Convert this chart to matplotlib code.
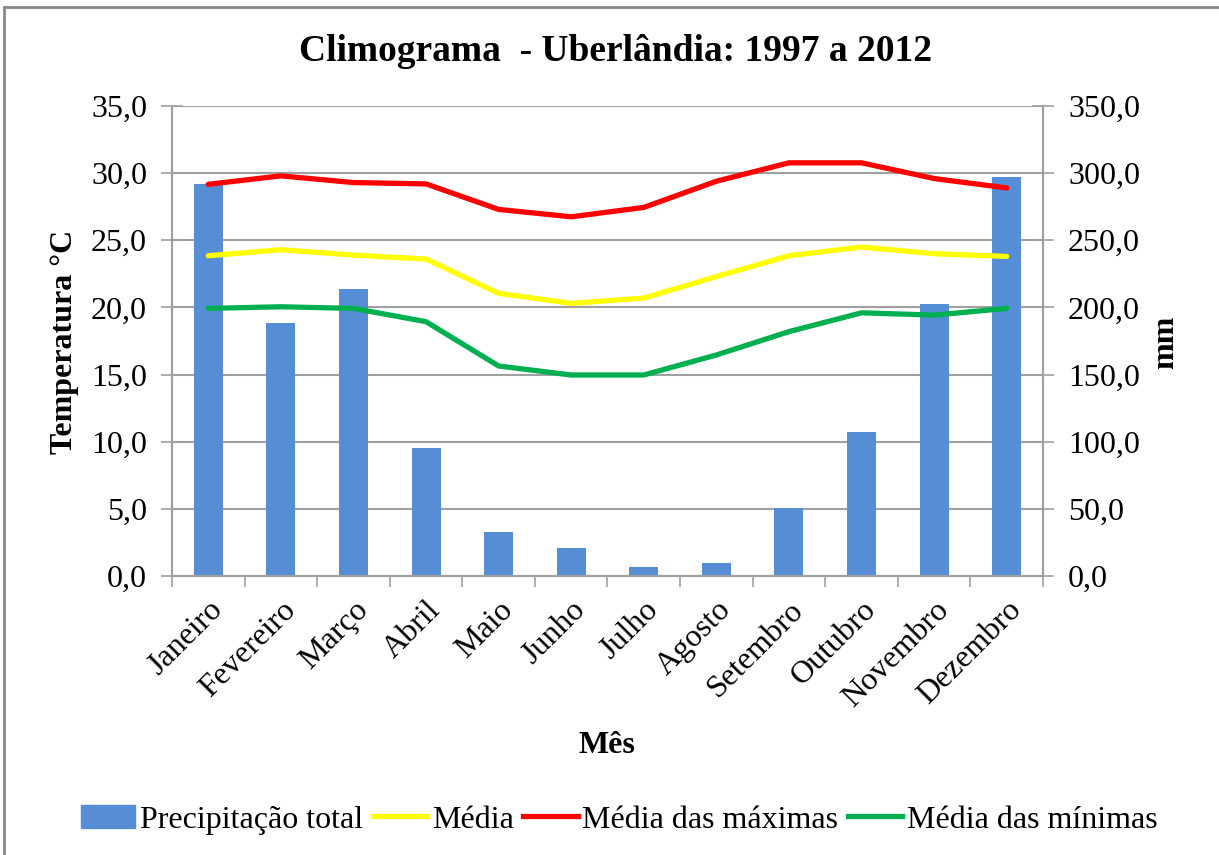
import numpy as np
import matplotlib.pyplot as plt
from matplotlib.patches import Patch, Rectangle
from matplotlib.lines import Line2D
from matplotlib.ticker import FuncFormatter, MultipleLocator

plt.rcParams['font.family'] = ['Liberation Serif', 'DejaVu Serif']

# Dados do climograma - Uberlândia 1997 a 2012
meses = ["Janeiro", "Fevereiro", "Março", "Abril", "Maio", "Junho",
         "Julho", "Agosto", "Setembro", "Outubro", "Novembro", "Dezembro"]
precipitacao = [292.0, 188.5, 213.5, 95.5, 32.5, 21.0, 6.7, 9.7, 50.4, 107.0, 202.5, 297.5]
media = [23.85, 24.3, 23.9, 23.6, 21.05, 20.3, 20.7, 22.3, 23.85, 24.5, 24.0, 23.8]
media_max = [29.17, 29.8, 29.3, 29.2, 27.3, 26.75, 27.45, 29.4, 30.77, 30.77, 29.6, 28.9]
media_min = [19.93, 20.05, 19.93, 18.94, 15.64, 14.97, 14.97, 16.46, 18.2, 19.6, 19.43, 19.93]

azul = '#558ED5'
cinza = '#A0A0A0'

fig = plt.figure(figsize=(12.19, 8.55), dpi=100)
ax = fig.add_axes([0.1411, 0.3263, 0.7145, 0.5497])
ax2 = ax.twinx()

x = np.arange(len(meses))

# barras (eixo da direita) ficam por baixo das linhas
ax2.bar(x, precipitacao, width=0.4, color=azul, zorder=2)
ax2.set_ylim(0, 350)
ax2.yaxis.set_major_locator(MultipleLocator(50))
ax2.grid(axis='y', color=cinza, linewidth=1.5, zorder=0)
ax2.set_axisbelow(True)

ax.plot(x, media, color='#FFFF00', lw=3.8, solid_capstyle='round')
ax.plot(x, media_max, color='#FF0000', lw=3.8, solid_capstyle='round')
ax.plot(x, media_min, color='#00B050', lw=3.8, solid_capstyle='round')
ax.set_zorder(ax2.get_zorder() + 1)
ax.patch.set_visible(False)
ax.set_ylim(0, 35)
ax.yaxis.set_major_locator(MultipleLocator(5))
ax.set_xlim(-0.5, 11.5)

fmt = FuncFormatter(lambda v, p: f"{v:.1f}".replace('.', ','))
ax.yaxis.set_major_formatter(fmt)
ax2.yaxis.set_major_formatter(fmt)

for a in (ax, ax2):
    a.spines['top'].set_visible(False)
    for s in ('left', 'right', 'bottom'):
        a.spines[s].set_color(cinza)
        a.spines[s].set_linewidth(1.5)

ax.tick_params(axis='y', direction='inout', length=16, width=1.2, color=cinza,
               labelsize=23, pad=10)
ax2.tick_params(axis='y', direction='inout', length=16, width=1.2, color=cinza,
                labelsize=23, pad=10)

ax.set_xticks(x)
ax.set_xticklabels(meses, rotation=45, ha='right', rotation_mode='anchor', fontsize=23)
ax.set_xticks(np.arange(-0.5, 12, 1), minor=True)
ax.tick_params(axis='x', which='major', length=0, pad=14)
ax.tick_params(axis='x', which='minor', length=8, width=1.2, color=cinza)

fig.text(0.505, 0.94, "Climograma  - Uberlândia: 1997 a 2012", ha='center', va='center',
         fontsize=27, fontweight='bold')
fig.text(0.053, 0.6, "Temperatura °C", rotation=90, ha='center', va='center',
         fontsize=23, fontweight='bold')
fig.text(0.956, 0.6, "mm", rotation=90, ha='center', va='center',
         fontsize=23, fontweight='bold')
fig.text(0.498, 0.128, "Mês", ha='center', va='center', fontsize=23, fontweight='bold')

handles = [Patch(color=azul),
           Line2D([], [], color='#FFFF00', lw=3.8),
           Line2D([], [], color='#FF0000', lw=3.8),
           Line2D([], [], color='#00B050', lw=3.8)]
labels = ["Precipitação total", "Média", "Média das máximas", "Média das mínimas"]
fig.legend(handles, labels, loc='center', bbox_to_anchor=(0.508, 0.041), ncol=4,
           frameon=False, fontsize=23, handlelength=1.7, handletextpad=0.15,
           columnspacing=0.3)

# moldura externa
fig.patches.append(Rectangle((3.5 / 1219, -0.05), 1.2, 1.05 - 7 / 855,
                             transform=fig.transFigure, fill=False,
                             edgecolor='#888888', linewidth=2))

fig.savefig("out.png", dpi=100)
